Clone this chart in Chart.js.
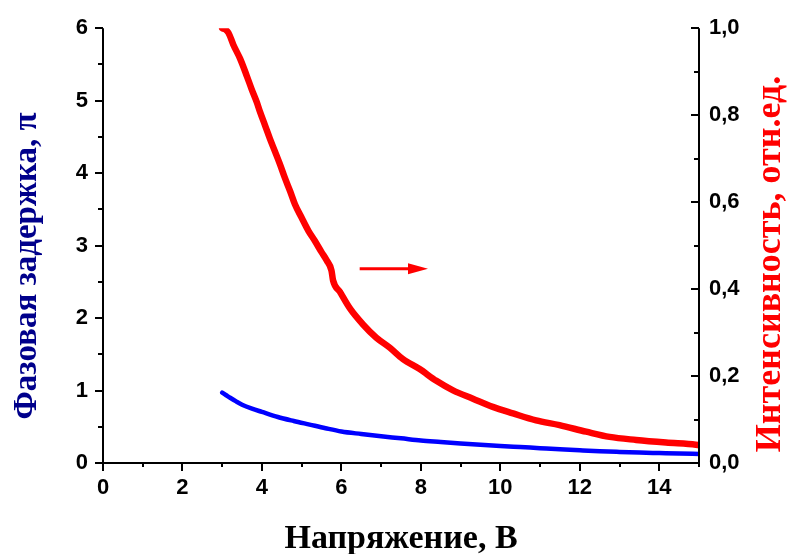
<!DOCTYPE html>
<html>
<head>
<meta charset="utf-8">
<title>Фазовая задержка и интенсивность</title>
<script src="https://cdn.jsdelivr.net/npm/chart.js@4.4.0/dist/chart.umd.min.js"></script>
<style>
  body { margin: 0; background: #fff; }
  canvas { display: block; }
</style>
</head>
<body>
<canvas id="chart" width="788" height="554"></canvas>
<script>
// Phase delay (left axis, units of pi)
const voltagePhase = [3.0, 3.1, 3.2, 3.35, 3.5, 3.75, 4.0, 4.4, 4.8, 5.2, 5.6, 6.0, 6.5, 7.0, 7.5, 8.0,
  8.5, 9.0, 9.5, 10.0, 10.5, 11.0, 11.5, 12.0, 12.5, 13.0, 13.5, 14.0, 14.5, 15.0];
const phase = [0.97, 0.935, 0.90, 0.85, 0.805, 0.75, 0.705, 0.635, 0.58, 0.53, 0.48, 0.435, 0.40, 0.368,
  0.34, 0.31, 0.29, 0.27, 0.252, 0.235, 0.22, 0.205, 0.19, 0.176, 0.163, 0.153, 0.144, 0.137, 0.13, 0.125];

// Intensity (right axis, relative units)
const voltageIntensity = [3.0, 3.08, 3.16, 3.28, 3.45, 3.62, 3.74, 3.87, 3.95, 4.08, 4.2, 4.33, 4.45,
  4.58, 4.71, 4.83, 5.0, 5.17, 5.33, 5.5, 5.63, 5.75, 5.79, 5.96, 6.21, 6.55, 6.88, 7.22, 7.55, 7.97,
  8.39, 8.81, 9.31, 9.81, 10.32, 10.9, 11.49, 12.16, 12.75, 13.42, 14.17, 14.92, 15.0];
const intensity = [1.0, 0.997, 0.989, 0.962, 0.93, 0.89, 0.86, 0.83, 0.808, 0.776, 0.746, 0.716, 0.688,
  0.655, 0.625, 0.595, 0.564, 0.534, 0.511, 0.485, 0.466, 0.443, 0.42, 0.394, 0.356, 0.318, 0.288, 0.265,
  0.239, 0.216, 0.189, 0.167, 0.148, 0.129, 0.114, 0.098, 0.087, 0.072, 0.06, 0.053, 0.047, 0.042, 0.041];

// Arrow pointing to the right axis (x in volts, level on intensity axis)
const arrowFrom = 6.46;
const arrowTo = 8.18;
const arrowLevel = 0.447;

const tickFont = {
  family: '"Liberation Sans", Arial, sans-serif',
  weight: 'bold',
  size: 22
};
const serif = '"Liberation Serif", "Times New Roman", serif';

// Axes lines, major and minor ticks, arrow
const axisFrame = {
  id: 'axisFrame',
  afterDatasetsDraw(chart) {
    const {ctx, chartArea: {left, right, top, bottom}} = chart;
    const sx = chart.scales.x;
    const sy = chart.scales.y;
    const sy1 = chart.scales.y1;

    ctx.save();
    ctx.strokeStyle = '#000';
    ctx.lineWidth = 2;
    ctx.lineCap = 'butt';
    ctx.beginPath();
    ctx.moveTo(left, top);
    ctx.lineTo(left, bottom);
    ctx.lineTo(right, bottom);
    ctx.moveTo(right, top);
    ctx.lineTo(right, bottom);

    for (let v = 0; v <= 15; v++) {
      const px = Math.round(sx.getPixelForValue(v));
      ctx.moveTo(px, bottom);
      ctx.lineTo(px, bottom + (v % 2 === 0 ? 8 : 4));
    }
    for (let i = 0; i <= 12; i++) {
      const py = Math.round(sy.getPixelForValue(i / 2));
      ctx.moveTo(left, py);
      ctx.lineTo(left - (i % 2 === 0 ? 8 : 5), py);
    }
    for (let i = 0; i <= 10; i++) {
      const py = Math.round(sy1.getPixelForValue(i / 10));
      ctx.moveTo(right, py);
      ctx.lineTo(right - (i % 2 === 0 ? 8 : 5), py);
    }
    ctx.stroke();

    // arrow
    const ax0 = sx.getPixelForValue(arrowFrom);
    const ax1 = sx.getPixelForValue(arrowTo);
    const ay = sy1.getPixelForValue(arrowLevel);
    ctx.strokeStyle = '#ff0000';
    ctx.fillStyle = '#ff0000';
    ctx.lineWidth = 3;
    ctx.beginPath();
    ctx.moveTo(ax0, ay);
    ctx.lineTo(ax1 - 18, ay);
    ctx.stroke();
    ctx.beginPath();
    ctx.moveTo(ax1, ay);
    ctx.lineTo(ax1 - 20, ay - 5.5);
    ctx.lineTo(ax1 - 20, ay + 5.5);
    ctx.closePath();
    ctx.fill();
    ctx.restore();
  },
  afterDraw(chart) {
    const {ctx, chartArea: {left, right}} = chart;
    ctx.save();
    ctx.textAlign = 'center';
    ctx.textBaseline = 'alphabetic';

    ctx.font = 'bold 34px ' + serif;
    ctx.fillStyle = '#000';
    ctx.fillText('Напряжение, В', (left + right) / 2, 548);

    ctx.save();
    ctx.font = 'bold 33px ' + serif;
    ctx.translate(36, 266);
    ctx.rotate(-Math.PI / 2);
    ctx.fillStyle = '#00008b';
    ctx.fillText('Фазовая задержка, π', 0, 0);
    ctx.restore();

    ctx.save();
    ctx.font = 'bold 36px ' + serif;
    ctx.translate(780, 264);
    ctx.rotate(-Math.PI / 2);
    ctx.fillStyle = '#ff0000';
    ctx.fillText('Интенсивность, отн.ед.', 0, 0);
    ctx.restore();

    ctx.restore();
  }
};

const ctx = document.getElementById('chart');

new Chart(ctx, {
  type: 'line',
  data: {
    datasets: [{
        label: 'Интенсивность',
        data: voltageIntensity.map((v, i) => ({x: v, y: intensity[i]})),
        yAxisID: 'y1',
        borderColor: '#ff0000',
        borderWidth: 6.5,
        borderJoinStyle: 'round',
        borderCapStyle: 'round',
        cubicInterpolationMode: 'monotone',
        pointRadius: 0
      },
      {
        label: 'Фазовая задержка',
        data: voltagePhase.map((v, i) => ({x: v, y: phase[i]})),
        yAxisID: 'y',
        borderColor: '#0000ff',
        borderWidth: 4.5,
        borderJoinStyle: 'round',
        borderCapStyle: 'round',
        cubicInterpolationMode: 'monotone',
        pointRadius: 0
      }
    ]
  },
  options: {
    responsive: false,
    animation: false,
    layout: {
      padding: {top: 23, left: 0, right: 0, bottom: 0}
    },
    plugins: {
      legend: {
        display: false
      },
      tooltip: {
        enabled: false
      }
    },
    scales: {
      x: {
        type: 'linear',
        min: 0,
        max: 15,
        afterFit(scale) {
          scale.height = 91;
        },
        ticks: {
          stepSize: 2,
          includeBounds: false,
          autoSkip: false,
          maxRotation: 0,
          padding: 12,
          color: '#000',
          font: tickFont,
          callback: (v) => (v % 2 === 0 && v < 15 ? String(v) : '')
        },
        grid: {
          display: false,
          drawTicks: false
        },
        border: {
          display: false
        }
      },
      y: {
        position: 'left',
        min: 0,
        max: 6,
        afterFit(scale) {
          scale.width = 103;
        },
        ticks: {
          stepSize: 1,
          padding: 15,
          color: '#000',
          font: tickFont
        },
        grid: {
          display: false,
          drawTicks: false
        },
        border: {
          display: false
        }
      },
      y1: {
        position: 'right',
        min: 0,
        max: 1,
        afterFit(scale) {
          scale.width = 89;
        },
        ticks: {
          stepSize: 0.2,
          padding: 10,
          color: '#000',
          font: tickFont,
          callback: (v) => v.toFixed(1).replace('.', ',')
        },
        grid: {
          display: false,
          drawTicks: false
        },
        border: {
          display: false
        }
      }
    }
  },
  plugins: [axisFrame]
});
</script>
</body>
</html>
